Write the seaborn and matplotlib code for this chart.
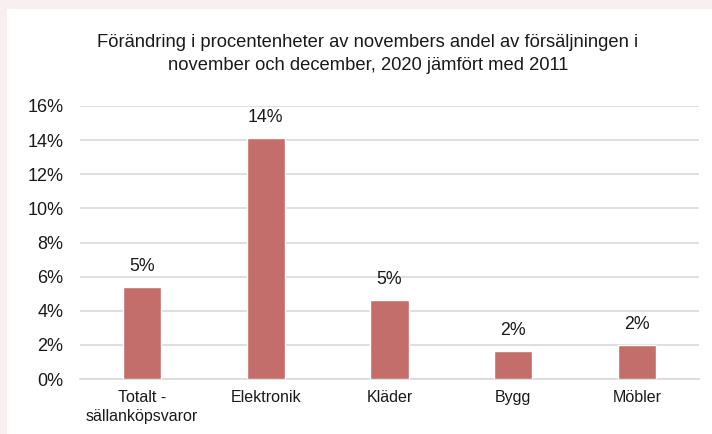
import matplotlib
matplotlib.use("Agg")
import matplotlib.pyplot as plt
import seaborn as sns
import pandas as pd
from matplotlib.patches import Rectangle

categories = ["Totalt -\nsällanköpsvaror", "Elektronik", "Kläder", "Bygg", "Möbler"]
values = [5.37, 14.1, 4.62, 1.64, 1.97]
value_labels = ["5%", "14%", "5%", "2%", "2%"]
yticks = [0, 2, 4, 6, 8, 10, 12, 14, 16]
ytick_labels = ["0%", "2%", "4%", "6%", "8%", "10%", "12%", "14%", "16%"]
title = "Förändring i procentenheter av novembers andel av försäljningen i\nnovember och december, 2020 jämfört med 2011"

sns.set_theme(style="white")
plt.rcParams['font.family'] = ['Liberation Sans', 'DejaVu Sans']

W, H = 712, 434
fig = plt.figure(figsize=(W / 100, H / 100), dpi=100)
fig.patch.set_facecolor("#F9EEF0")
bg = Rectangle((7 / W, 0), 1 - 7 / W, 1 - 9 / H, transform=fig.transFigure,
               facecolor="white", edgecolor="none", zorder=-10)
fig.add_artist(bg)

ax = fig.add_axes([80 / W, 1 - 379 / H, (699 - 80) / W, (379 - 106) / H])
ax.set_zorder(1)
ax.set_facecolor("none")

df = pd.DataFrame({"cat": categories, "val": values})
sns.barplot(data=df, x="cat", y="val", color="#C46E6C", saturation=1, width=0.31, ax=ax, zorder=3)

ax.set_ylim(0, 16)
ax.set_yticks(yticks)
ax.set_yticklabels(ytick_labels, fontsize=13, color="#1a1a1a")
ax.tick_params(axis="y", length=0, pad=12)
ax.tick_params(axis="x", length=0, pad=8, labelsize=11.5, labelcolor="#1a1a1a")
for t in ax.get_xticklabels():
    t.set_linespacing(1.35)
ax.set_xlabel("")
ax.set_ylabel("")
ax.grid(axis="y", color="#D9D9D9", linewidth=1.2, zorder=0)
for s in ["top", "right", "left"]:
    ax.spines[s].set_visible(False)
ax.spines["bottom"].set_color("#D9D9D9")
ax.spines["bottom"].set_linewidth(1.2)

for i, (v, lab) in enumerate(zip(values, value_labels)):
    ax.annotate(lab, (i, v), xytext=(0, 9), textcoords="offset points",
                ha="center", va="bottom", fontsize=12.8, color="#1a1a1a")

fig.text(368 / W, 1 - 54 / H, title, ha="center", va="center", fontsize=13.2,
         color="#1a1a1a", linespacing=1.45)

fig.savefig("out.png", dpi=100)
